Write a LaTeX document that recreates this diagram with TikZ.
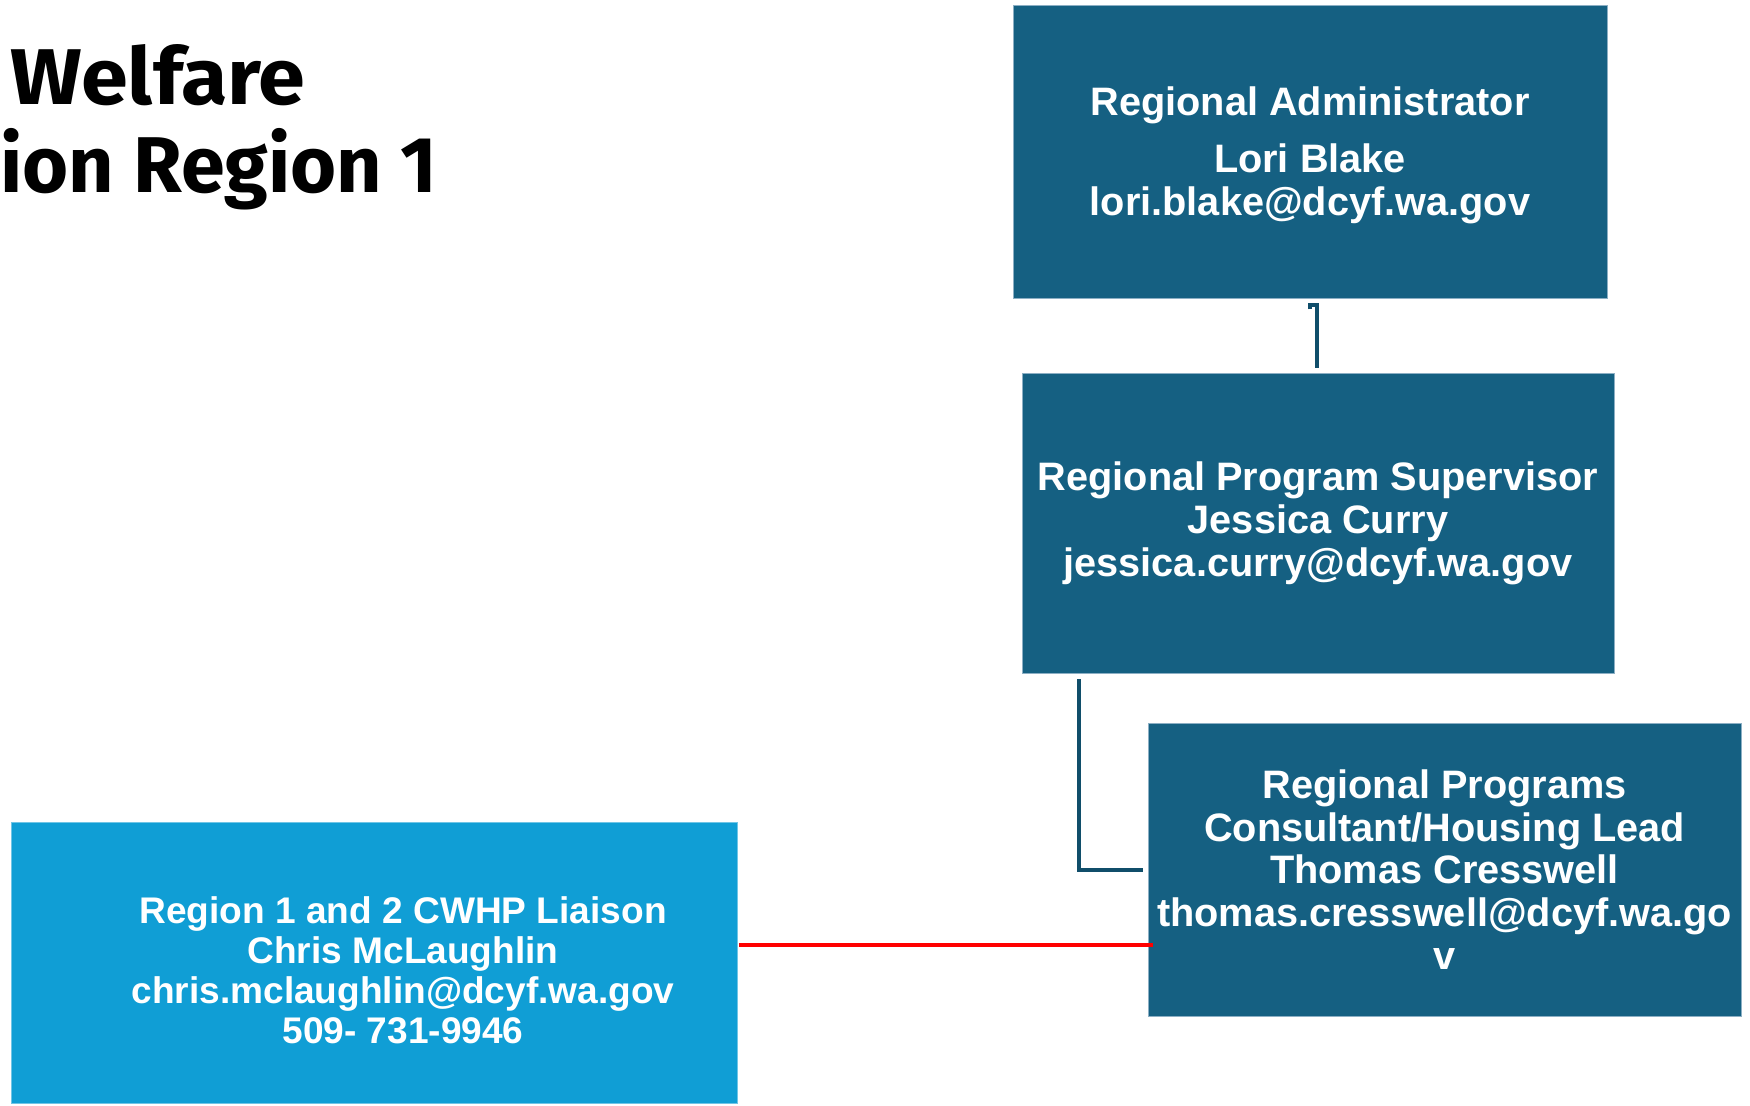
\documentclass[tikz,border=0pt]{standalone}
\usepackage{fontspec}
\setmainfont{Liberation Sans}
\newfontfamily\titlefont{Fira Sans}
\usetikzlibrary{positioning}
\definecolor{boxblue}{RGB}{21,96,130}
\definecolor{liaisonblue}{RGB}{16,158,213}
\definecolor{boxedge}{RGB}{140,175,196}
\definecolor{linkblue}{RGB}{16,78,106}
\newcommand{\widetitle}[1]{\scalebox{1.07}[1]{#1}}

\begin{document}
\begin{tikzpicture}[
    x=0.02cm,y=-0.02cm,
    box/.style={rectangle,fill=boxblue,draw=boxedge,line width=0.4pt,
        inner sep=0pt,text=white,align=center,
        font=\fontsize{22.6}{24.4}\selectfont\bfseries},
    liaison/.style={box,fill=liaisonblue,draw=liaisonblue!60!white},
    liaison text/.style={text=white,align=center,inner sep=0pt,
        font=\fontsize{21.1}{22.7}\selectfont\bfseries},
    link/.style={draw=linkblue,line width=2.3pt},
    redlink/.style={draw=red,line width=2.2pt},
    title/.style={inner sep=0pt,font=\titlefont\fontsize{45}{50}\selectfont\bfseries}
  ]
    \useasboundingbox (0,0) rectangle (1750,1105);

    \node[title,anchor=base west] (welfare) at (10,105) {\widetitle{Welfare}};
    \node[title,anchor=base east] (region)  at (438,192) {ion Region 1};

    \node[box,minimum width=11.88cm,minimum height=5.86cm] (admin) at (1310,151.5)
        {\\[-4pt]Regional Administrator\\[8pt]Lori Blake\\lori.blake@dcyf.wa.gov};
    \node[box,minimum width=11.84cm,minimum height=6cm] (super) at (1318,523)
        {Regional Program Supervisor\\Jessica Curry\\jessica.curry@dcyf.wa.gov};
    \node[box,minimum width=11.86cm,minimum height=5.86cm] (thomas) at (1444.5,869.5)
        {Regional Programs\\Consultant/Housing Lead\\Thomas Cresswell\\thomas.cresswell@dcyf.wa.go\\v};
    \node[liaison,minimum width=14.52cm,minimum height=5.62cm] (chris) at (374,962.5) {};
    \node[liaison text] (chris text) at (403,970)
        {Region 1 and 2 CWHP Liaison\\Chris McLaughlin\\chris.mclaughlin@dcyf.wa.gov\\509- 731-9946};

    % connectors
    \draw[link] ([shift={(0,11)}]admin.south) |- ([shift={(7,7)}]admin.south)
        -- ([shift={(-1,-5)}]super.north);
    \draw[link] ([shift={(57,6)}]super.south west) |- ([shift={(-5,0.5)}]thomas.west);
    \coordinate (tie) at (1153,945);
    \draw[redlink] ([xshift=1]chris.east |- tie) -- (tie);
\end{tikzpicture}
\end{document}
